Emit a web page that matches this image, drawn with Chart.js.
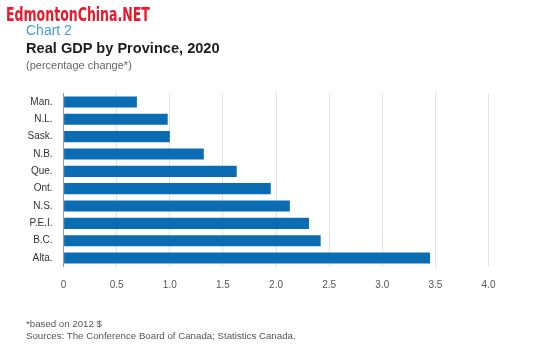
<!DOCTYPE html>
<html>
<head>
<meta charset="utf-8">
<script src="https://cdn.jsdelivr.net/npm/chart.js@4"></script>
<style>
html,body{margin:0;padding:0;background:#fff;}
#wrap{position:relative;width:557px;height:359px;overflow:hidden;font-family:"Liberation Sans",Arial,sans-serif;}
canvas{position:absolute;left:0;top:0;}
.t{position:absolute;white-space:nowrap;}
</style>
</head>
<body>
<div id="wrap">
<canvas id="c" width="557" height="359"></canvas>
<div class="t" style="left:6px;top:3px;font-family:'DejaVu Sans',sans-serif;font-weight:bold;font-size:19px;color:#e8192c;transform:scaleX(0.66);transform-origin:0 0;">EdmontonChina.NET</div>
<div class="t" style="left:26px;top:22px;font-size:14px;color:#4a9ccb;">Chart 2</div>
<div class="t" style="left:26px;top:40px;font-size:14.6px;font-weight:bold;color:#1e1e1e;">Real GDP by Province, 2020</div>
<div class="t" style="left:26px;top:59px;font-size:11px;color:#666;">(percentage change*)</div>
<div class="t" style="left:26px;top:318px;font-size:9.7px;color:#555;">*based on 2012 $</div>
<div class="t" style="left:26px;top:330px;font-size:9.7px;color:#555;">Sources: The Conference Board of Canada; Statistics Canada.</div>
</div>
<script>
const provinces = ["Man.","N.L.","Sask.","N.B.","Que.","Ont.","N.S.","P.E.I.","B.C.","Alta."];
const gdpChange = [0.69, 0.98, 1.0, 1.32, 1.63, 1.95, 2.13, 2.31, 2.42, 3.45];
const xTicks = [0, 0.5, 1.0, 1.5, 2.0, 2.5, 3.0, 3.5, 4.0];

new Chart(document.getElementById('c'), {
  type: 'bar',
  data: {
    labels: provinces,
    datasets: [{
      data: gdpChange,
      backgroundColor: '#0a6db3',
      borderWidth: 0,
      barPercentage: 0.64,
      categoryPercentage: 1.0
    }]
  },
  options: {
    indexAxis: 'y',
    responsive: false,
    animation: false,
    devicePixelRatio: 1,
    layout: { padding: { left: 0, top: 93.3, right: 68.5, bottom: 62.3 } },
    plugins: { legend: { display: false }, tooltip: { enabled: false }, title: { display: false } },
    scales: {
      x: {
        min: 0, max: 4,
        afterBuildTicks: (axis) => { axis.ticks = xTicks.map(v => ({ value: v })); },
        afterFit: (axis) => { axis.height = 30; },
        grid: { color: '#e2e2e2', lineWidth: 1, drawTicks: false },
        border: { display: false },
        ticks: {
          padding: 13,
          color: '#555',
          font: { family: 'Liberation Sans', size: 10 },
          callback: (v) => v === 0 ? '0' : Number(v).toFixed(1)
        }
      },
      y: {
        afterFit: (axis) => { axis.width = 63.6; },
        grid: { display: false, drawTicks: false },
        border: { display: true, color: '#999', width: 1 },
        ticks: {
          padding: 11,
          color: '#333',
          font: { family: 'Liberation Sans', size: 10 }
        }
      }
    }
  }
});
</script>
</body>
</html>
